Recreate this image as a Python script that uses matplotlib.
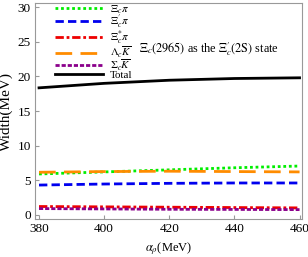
import numpy as np
import matplotlib.pyplot as plt

plt.rcParams['font.family'] = 'Liberation Serif'
plt.rcParams['mathtext.fontset'] = 'stix'

# Data
alpha = [380, 400, 420, 440, 460]
xi_pi = [5.9, 6.2, 6.5, 6.8, 7.05]
xip_pi = [4.3, 4.45, 4.55, 4.6, 4.6]
xis_pi = [1.2, 1.15, 1.1, 1.05, 1.0]
lam_K = [6.15, 6.25, 6.3, 6.25, 6.2]
sig_K = [0.9, 0.85, 0.8, 0.78, 0.75]
total = [18.35, 19.0, 19.45, 19.7, 19.8]

labels = [r'$\Xi_c\pi$', r"$\Xi_c^{\prime}\pi$", r'$\Xi_c^{*}\pi$',
          r'$\Lambda_c\overline{K}$', r'$\Sigma_c\overline{K}$', 'Total']

fig = plt.figure(figsize=(3.08, 2.57), dpi=100)
ax = fig.add_axes([0.114, 0.148, 0.867, 0.84])

ax.plot(alpha, xi_pi, color='#00ee00', linestyle=(0, (1, 1)), linewidth=2, label=labels[0])
ax.plot(alpha, xip_pi, color='#0000ee', linestyle=(0, (3, 1.5)), linewidth=2, label=labels[1])
ax.plot(alpha, xis_pi, color='#ee0000', linestyle=(0, (3, 1, 1, 1)), linewidth=2, label=labels[2])
ax.plot(alpha, lam_K, color='#ff8c00', linestyle=(0, (6, 3)), linewidth=2, label=labels[3])
ax.plot(alpha, sig_K, color='#8b008b', linestyle=(0, (1.5, 0.7)), linewidth=2, label=labels[4])
ax.plot(alpha, total, color='black', linestyle='-', linewidth=2, label=labels[5])

ax.set_xlim(378.8, 460.8)
ax.set_ylim(-0.6, 30.6)
ax.set_xticks([380, 400, 420, 440, 460])
ax.set_yticks([0, 5, 10, 15, 20, 25, 30])
ax.tick_params(labelsize=9.5, direction='in', length=3, color='#999999', pad=3)
for s in ax.spines.values():
    s.set_color('#999999')

ax.set_xlabel(r'$\alpha_\rho$(MeV)', fontsize=9, labelpad=4)
ax.set_ylabel('Width(MeV)', fontsize=11, labelpad=3)

ax.text(0.39, 0.785, r"$\Xi_c(2965)$ as the $\Xi_c^{\prime}\mathrm{(2S)}$ state", transform=ax.transAxes,
        fontsize=8.8, va='center')

ax.legend(loc='upper left', bbox_to_anchor=(0.045, 1.035), frameon=False, fontsize=7.9,
          handlelength=4.4, labelspacing=-0.22, handletextpad=0.6, borderpad=0.2)

plt.savefig('out.png', dpi=100)
